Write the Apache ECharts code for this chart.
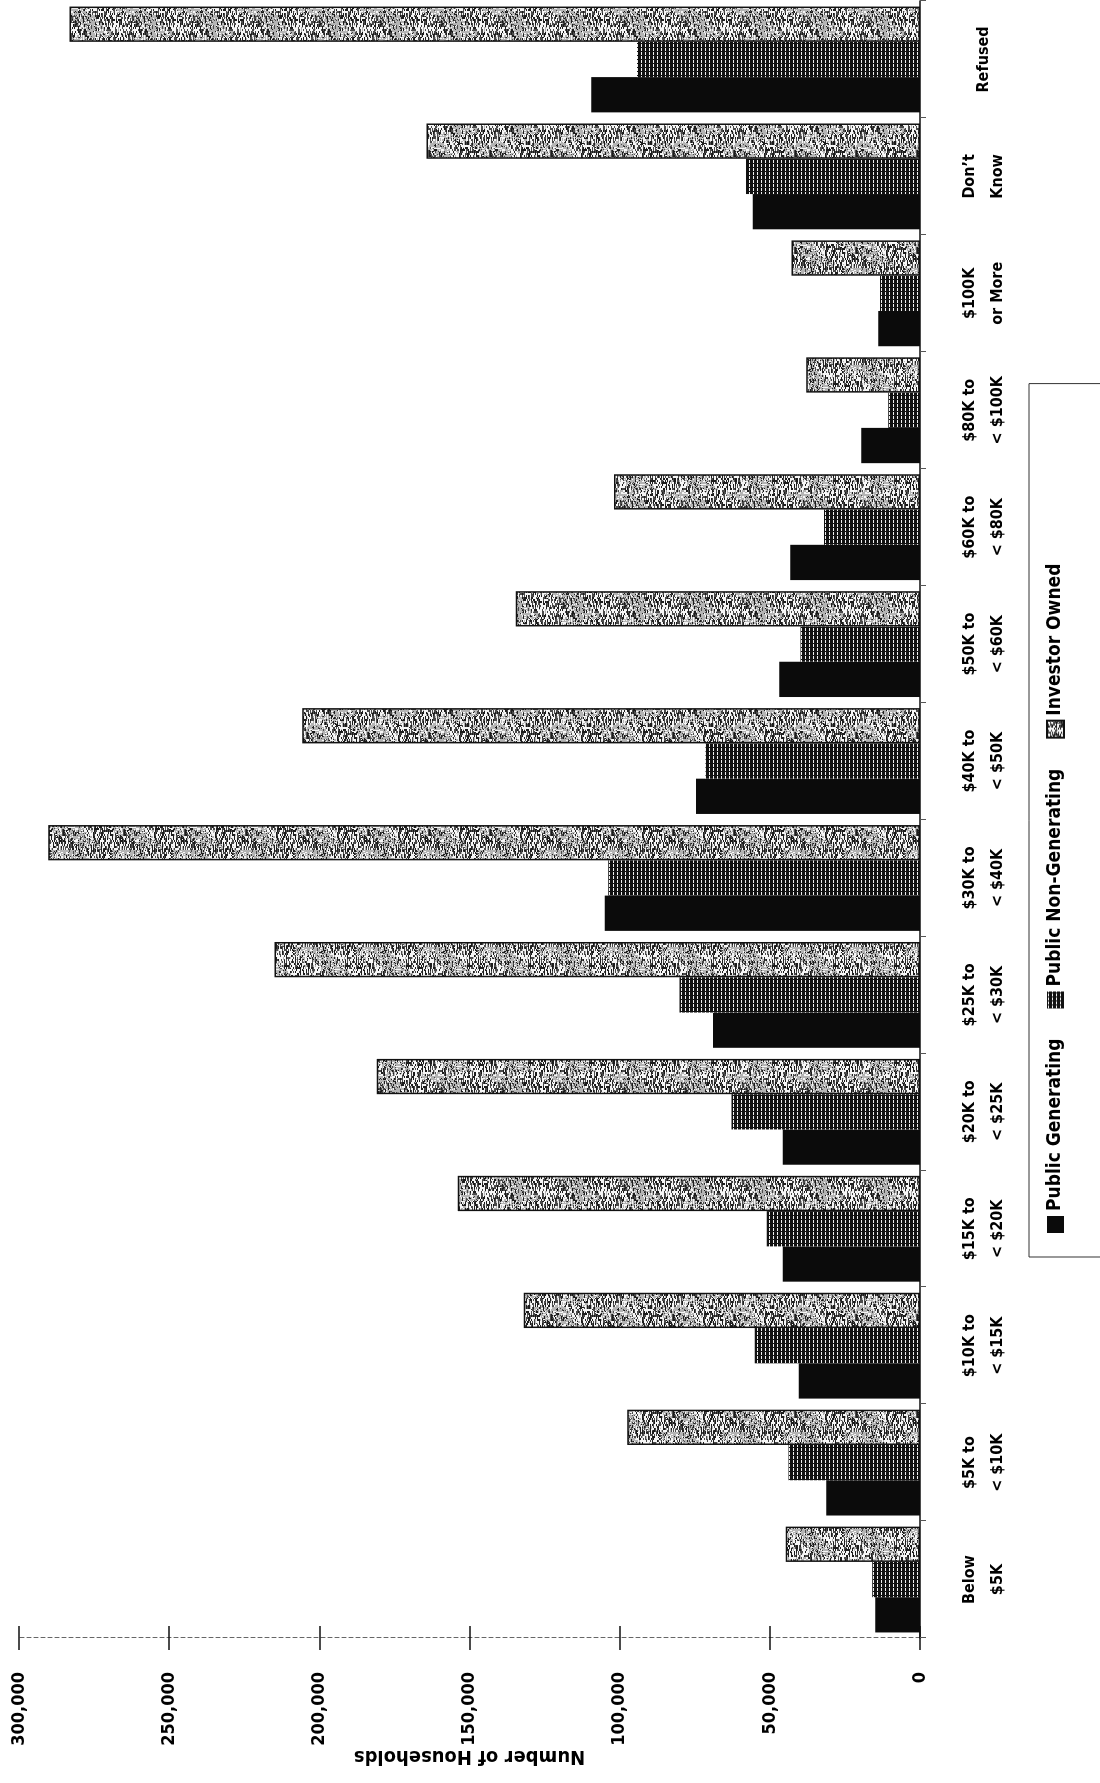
<!DOCTYPE html>
<html><head><meta charset="utf-8">
<script src="https://cdn.jsdelivr.net/npm/echarts@6/dist/echarts.min.js"></script>
<style>
html,body{margin:0;padding:0;width:1100px;height:1783px;overflow:hidden;background:#fff}
#chart{position:absolute;left:0;top:0;width:1783px;height:1100px;transform-origin:0 0;transform:translate(0px,1783px) rotate(-90deg);}
</style></head>
<body><div id="chart"></div>
<script>
const categories = ['Below\n$5K', '$5K to\n< $10K', '$10K to\n< $15K', '$15K to\n< $20K', '$20K to\n< $25K', '$25K to\n< $30K', '$30K to\n< $40K', '$40K to\n< $50K', '$50K to\n< $60K', '$60K to\n< $80K', '$80K to\n< $100K', '$100K\nor More', 'Don\u2019t\nKnow', 'Refused'];
const seriesNames = ['Public Generating', 'Public Non-Generating', 'Investor Owned'];
const publicGenerating = [14900, 31200, 40400, 45700, 45700, 68900, 105000, 74600, 46900, 43200, 19600, 13900, 55700, 109500];
const publicNonGenerating = [15900, 43800, 55000, 51000, 62800, 80100, 103800, 71400, 39800, 32000, 10600, 13300, 57900, 94200];
const investorOwned = [44700, 97500, 131900, 153900, 180900, 214900, 290300, 205700, 134600, 101900, 37900, 42800, 164300, 283200];
const valueTicks = [0, 50000, 100000, 150000, 200000, 250000, 300000];

const FONT = "'Liberation Sans Narrow', 'DejaVu Sans Condensed', 'Arial Narrow', sans-serif";

function gridPattern() {
  const c = document.createElement('canvas');
  c.width = 4; c.height = 4;
  const g = c.getContext('2d');
  g.fillStyle = '#111'; g.fillRect(0, 0, 4, 4);
  g.fillStyle = '#f0f0f0'; g.fillRect(0, 1, 3, 1);
  return c;
}
function speckPattern() {
  const w = 97, h = 61;
  const c = document.createElement('canvas');
  c.width = w; c.height = h;
  const g = c.getContext('2d');
  g.fillStyle = '#b4b4b4'; g.fillRect(0, 0, w, h);
  for (let y = 0; y < h; y++) {
    for (let x = 0; x < w; x += 2) {
      const hv = ((x * 73856093) ^ (y * 19349663) ^ ((x + y) * 83492791)) >>> 0;
      const k = hv % 10;
      if (k < 4) { g.fillStyle = k < 2 ? '#1c1c1c' : '#4a4a4a'; g.fillRect(x, y, 3 + (hv >> 8) % 5, 1); }
      else if (k < 7) { g.fillStyle = '#f6f6f6'; g.fillRect(x, y, 2 + (hv >> 9) % 4, 1); }
    }
  }
  return c;
}

const chart = echarts.init(document.getElementById('chart'), null, { renderer: 'canvas' });
const axisFont = { fontFamily: FONT, fontWeight: 'bold', color: '#000' };

chart.setOption({
  animation: false,
  backgroundColor: '#fff',
  grid: { left: 145, right: 1, top: 19, bottom: 180, containLabel: false, outerBoundsMode: 'none' },
  legend: {
    left: 526, top: 1029,
    orient: 'horizontal',
    icon: 'rect',
    itemWidth: 17, itemHeight: 17, itemGap: 30,
    padding: [17, 180, 40, 24],
    borderColor: '#333', borderWidth: 1,
    textStyle: Object.assign({ fontSize: 19 }, axisFont),
    data: seriesNames
  },
  xAxis: {
    type: 'category',
    data: categories,
    position: 'bottom',
    axisLine: { lineStyle: { color: '#111', width: 1.5 } },
    axisTick: { show: true, length: 6, lineStyle: { color: '#555' } },
    axisLabel: Object.assign({ fontSize: 16, lineHeight: 28, margin: 64, verticalAlign: 'middle', align: 'center', interval: 0 }, axisFont)
  },
  yAxis: [{
    type: 'value', min: 0, max: 300000, interval: 50000,
    position: 'left',
    name: 'Number of Households',
    nameLocation: 'middle', nameRotate: 90, nameGap: 108, nameMoveOverlap: false,
    nameTextStyle: Object.assign({ fontSize: 20 }, axisFont),
    axisLine: { show: true, lineStyle: { color: '#666', width: 1, type: [4, 3] } },
    axisTick: { show: true, length: 12, lineStyle: { color: '#111', width: 1.5 } },
    axisLabel: Object.assign({ fontSize: 18, margin: 34 }, axisFont),
    splitLine: { show: false }
  }, {
    type: 'value', min: 0, max: 300000, interval: 50000,
    position: 'left',
    axisLine: { show: false },
    axisTick: { show: true, inside: true, length: 12, lineStyle: { color: '#111', width: 1.5 } },
    axisLabel: { show: false },
    splitLine: { show: false }
  }],
  series: [
    { name: seriesNames[0], type: 'bar', data: publicGenerating, barGap: '0%', barCategoryGap: '9.5%',
      itemStyle: { color: '#0b0b0b' } },
    { name: seriesNames[1], type: 'bar', data: publicNonGenerating, barGap: '0%', barCategoryGap: '9.5%',
      itemStyle: { color: { image: gridPattern(), repeat: 'repeat' } } },
    { name: seriesNames[2], type: 'bar', data: investorOwned, barGap: '0%', barCategoryGap: '9.5%',
      itemStyle: { color: { image: speckPattern(), repeat: 'repeat' }, borderColor: '#111', borderWidth: 1.5 } }
  ]
});
</script></body></html>
